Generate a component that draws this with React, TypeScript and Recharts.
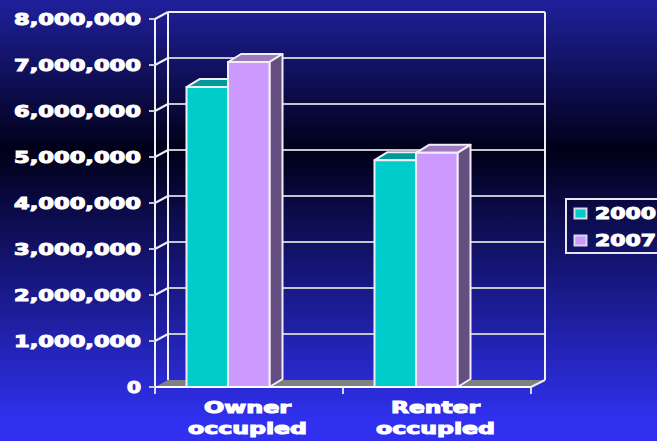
import { BarChart, Bar, XAxis, YAxis, CartesianGrid, Legend } from 'recharts';

const categories = ['Owner occupied', 'Renter occupied'];
const values2000 = [6520000, 4930000];
const values2007 = [7065000, 5090000];
const yTicks = [0, 1000000, 2000000, 3000000, 4000000, 5000000, 6000000, 7000000, 8000000];

const data = categories.map((name, i) => ({ name, y2000: values2000[i], y2007: values2007[i] }));

const DEPTH_X = 13;
const DEPTH_Y = 7;
const PLOT_TOP = 19;
const PLOT_BOTTOM = 387;
const BAR_SHIFT = -21.5;
const WIDE_FONT = '"DejaVu Sans", sans-serif';

function WideText({ x, y, width, children, anchor = 'middle', size = 15 }: any) {
  return (
    <text x={x} y={y} textAnchor={anchor} textLength={width} lengthAdjust="spacingAndGlyphs"
      fontFamily={WIDE_FONT} fontWeight={700} fontSize={size} fill="#fff" stroke="#fff" strokeWidth={1}>
      {children}
    </text>
  );
}

function YTick({ x, y, payload }: any) {
  const label = Number(payload.value).toLocaleString('en-US');
  const w = payload.value === 0 ? 14 : 127;
  return <WideText x={x} y={y + 5.5} width={w} anchor="end">{label}</WideText>;
}

const labelWidths: Record<string, number> = { Owner: 87, Renter: 89, occupied: 119 };

function XTick({ x, y, payload }: any) {
  const [a, b] = String(payload.value).split(' ');
  return (
    <g>
      <WideText x={x - 1.5} y={y + 14} width={labelWidths[a]}>{a}</WideText>
      <WideText x={x - 1.5} y={y + 35} width={labelWidths[b]}>{b}</WideText>
    </g>
  );
}

function GridLine({ x1, x2, y1 }: any) {
  const backX1 = x1 + DEPTH_X;
  const backX2 = x2 + DEPTH_X + 1;
  const backY = y1 - DEPTH_Y;
  if (y1 >= PLOT_BOTTOM - 1) {
    // floor, plus the tick marks on the category boundaries
    return (
      <g>
        <polygon points={`${x1},${y1} ${backX1},${backY} ${backX2},${backY} ${x2},${y1}`} fill="#808080" />
        <line x1={x2} y1={y1} x2={backX2} y2={backY} stroke="#e8e8f0" strokeWidth={2} />
        {[x1, (x1 + x2) / 2, x2].map((tx) => (
          <line key={tx} x1={tx} y1={y1} x2={tx} y2={y1 + 7} stroke="#d8d8f0" strokeWidth={2} />
        ))}
      </g>
    );
  }
  const isTop = y1 <= PLOT_TOP + 1;
  return (
    <g>
      <line x1={x1} y1={y1} x2={backX1} y2={backY} stroke="#f0f0f8" strokeWidth={2} />
      <line x1={backX1} y1={backY} x2={backX2} y2={backY} stroke={isTop ? '#f0f0f8' : '#c4c4cc'} strokeWidth={2} />
      {isTop && (
        <>
          <line x1={backX1} y1={backY} x2={backX1} y2={PLOT_BOTTOM - DEPTH_Y} stroke="#f0f0f8" strokeWidth={2} />
          <line x1={backX2} y1={backY} x2={backX2} y2={PLOT_BOTTOM - DEPTH_Y} stroke="#f0f0f8" strokeWidth={2} />
        </>
      )}
    </g>
  );
}

function Bar3D({ x, y, width, height, fill, topFill, sideFill }: any) {
  const l = x + BAR_SHIFT;
  const r = l + width;
  const b = y + height;
  const dx = DEPTH_X;
  const dy = DEPTH_Y + 1;
  return (
    <g stroke="#f0eef8" strokeWidth={2} strokeLinejoin="round">
      <polygon points={`${l},${y} ${l + dx},${y - dy} ${r + dx},${y - dy} ${r},${y}`} fill={topFill} />
      <polygon points={`${r},${y} ${r + dx},${y - dy} ${r + dx},${b - dy} ${r},${b}`} fill={sideFill} />
      <rect x={l} y={y} width={width} height={height} fill={fill} />
    </g>
  );
}

function LegendBox({ payload }: any) {
  return (
    <svg width={100} height={56} style={{ display: 'block' }}>
      <rect x={1} y={1} width={110} height={54} fill="none" stroke="#e8e8f0" strokeWidth={2} />
      {(payload || []).map((p: any, i: number) => (
        <g key={p.value}>
          <rect x={9.5} y={10.5 + i * 27} width={12} height={10} fill={p.color} stroke="#d8d8e8" strokeWidth={2} />
          <WideText x={30} y={21 + i * 27} width={61} anchor="start">{p.value}</WideText>
        </g>
      ))}
    </svg>
  );
}

export default function App() {
  return (
    <div style={{
      position: 'absolute', left: 0, top: 0, width: 657, height: 441, overflow: 'hidden',
      background: 'linear-gradient(180deg, #20209c 0px, #000018 150px, #3030ee 420px, #3030ee 441px)',
    }}>
      {/* the legend takes its 100px out of the plot, so the right margin is 126 - 100 */}
      <BarChart width={657} height={441} data={data} barSize={41.5} barGap={0}
        margin={{ top: PLOT_TOP, right: 26, bottom: 0, left: 0 }}>
        <CartesianGrid vertical={false} horizontal={(p: any) => <GridLine key={p.key} {...p} />} />
        <XAxis dataKey="name" height={54} tick={<XTick />} tickLine={false} tickMargin={6} interval={0}
          axisLine={{ stroke: '#fff', strokeWidth: 2 }} />
        <YAxis width={155} domain={[0, 8000000]} ticks={yTicks} interval={0} tick={<YTick />}
          tickSize={6} tickMargin={8}
          axisLine={{ stroke: '#f0f0f8', strokeWidth: 2 }} tickLine={{ stroke: '#c8c8d8', strokeWidth: 2 }} />
        <Bar dataKey="y2000" name="2000" fill="#00cccc" isAnimationActive={false}
          shape={(p: any) => <Bar3D {...p} topFill="#009999" sideFill="#006666" />} />
        <Bar dataKey="y2007" name="2007" fill="#cc99ff" isAnimationActive={false}
          shape={(p: any) => <Bar3D {...p} topFill="#9f7abf" sideFill="#654f80" />} />
        <Legend layout="vertical" align="right" verticalAlign="middle" content={<LegendBox />}
          wrapperStyle={{ left: 565, top: 198, width: 100, height: 56, right: 'auto', bottom: 'auto' }} />
      </BarChart>
    </div>
  );
}
